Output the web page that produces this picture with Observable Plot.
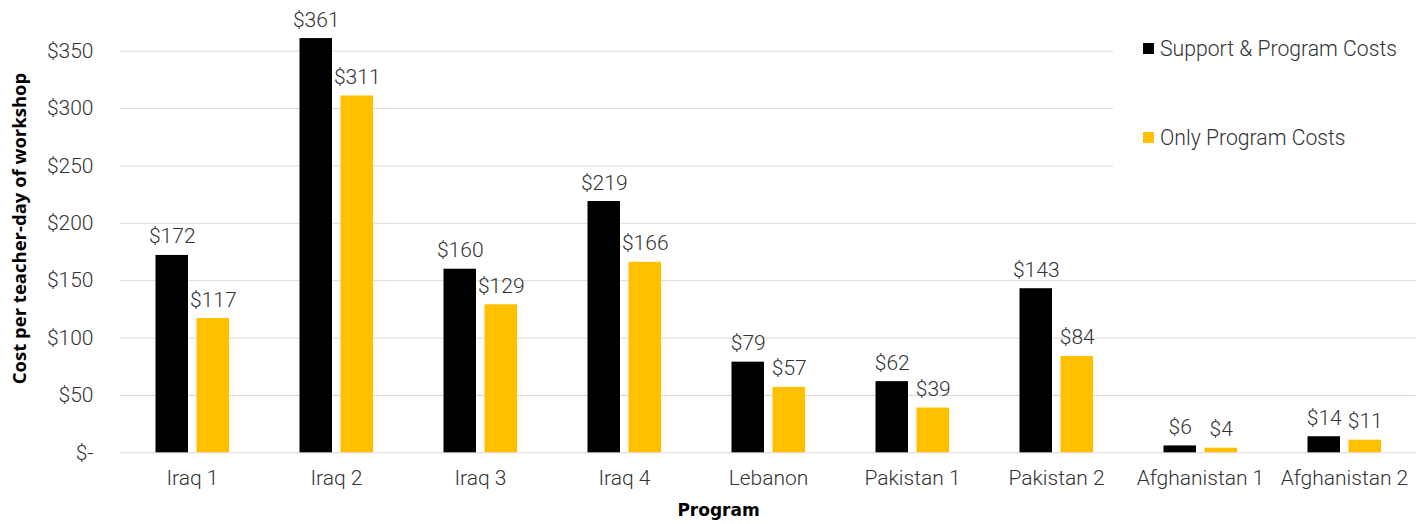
<!DOCTYPE html>
<html>
<head>
<meta charset="utf-8">
<script src="https://cdn.jsdelivr.net/npm/d3@7"></script>
<script src="https://cdn.jsdelivr.net/npm/@observablehq/plot@0.6"></script>
<style>
  body { margin: 0; background: #fff; }
  #wrap { position: relative; width: 1424px; height: 524px; overflow: hidden; }
  #legend { position: absolute; left: 1113px; top: 20px; width: 311px; height: 180px; background: #fff;
            font-family: Roboto, "Liberation Sans", sans-serif; font-weight: 300; font-size: 21.2px; color: #333; }
  .item { position: absolute; left: 30px; display: flex; align-items: center; white-space: nowrap; }
  .sw { width: 11px; height: 11px; margin-right: 6px; }
</style>
</head>
<body>
<div id="wrap"><div id="legend"></div></div>
<script>
const programs = ["Iraq 1", "Iraq 2", "Iraq 3", "Iraq 4", "Lebanon", "Pakistan 1", "Pakistan 2", "Afghanistan 1", "Afghanistan 2"];
const supportAndProgram = [172, 361, 160, 219, 79, 62, 143, 6, 14];
const programOnly = [117, 311, 129, 166, 57, 39, 84, 4, 11];
const seriesNames = ["Support & Program Costs", "Only Program Costs"];
const seriesColors = ["#000000", "#FFC000"];
const yTicks = [0, 50, 100, 150, 200, 250, 300, 350];
const yTitle = "Cost per teacher-day of workshop";
const xTitle = "Program";

const rowsA = programs.map((p, i) => ({program: p, value: supportAndProgram[i]}));
const rowsB = programs.map((p, i) => ({program: p, value: programOnly[i]}));
const fmt = v => v === 0 ? "$-" : "$" + v;

const chart = Plot.plot({
  width: 1424, height: 524,
  marginLeft: 119.5, marginRight: 8.5, marginTop: 50.7, marginBottom: 71.7,
  style: {fontFamily: "Roboto, 'Liberation Sans', sans-serif", fontSize: "21px", fontWeight: 300, color: "#333", background: "#fff"},
  x: {type: "band", domain: programs, padding: 0},
  y: {domain: [0, 350]},
  marks: [
    Plot.ruleY(yTicks, {stroke: "#d9d9d9", strokeWidth: 1}),
    Plot.barY(rowsA, {x: "program", y: "value", fill: seriesColors[0], insetLeft: 35.5, insetRight: 76}),
    Plot.barY(rowsB, {x: "program", y: "value", fill: seriesColors[1], insetLeft: 76.5, insetRight: 35}),
    Plot.text(rowsA, {x: "program", y: "value", text: d => fmt(d.value), dx: -20.25, dy: -12, lineAnchor: "bottom", fill: "#333"}),
    Plot.text(rowsB, {x: "program", y: "value", text: d => fmt(d.value), dx: 20.75, dy: -12, lineAnchor: "bottom", fill: "#333"}),
    Plot.axisY({ticks: yTicks, tickFormat: fmt, tickSize: 0, tickPadding: 26.5, label: null}),
    Plot.axisX({tickSize: 0, tickPadding: 17, label: null}),
    Plot.text([yTitle], {frameAnchor: "left", text: d => d, rotate: -90, textAnchor: "middle", lineAnchor: "middle",
      dx: -99.5, dy: -23.5, fontWeight: "bold", fontSize: 18.5, fontFamily: "'Open Sans', sans-serif", fill: "#000"}),
    Plot.text([xTitle], {frameAnchor: "bottom", text: d => d, textAnchor: "middle", lineAnchor: "bottom",
      dx: -49.5, dy: 63.4, fontWeight: "bold", fontSize: 17, fontFamily: "'DejaVu Sans', sans-serif", fill: "#000"})
  ]
});
const wrap = document.getElementById("wrap");
wrap.insertBefore(chart, wrap.firstChild);

const legend = document.getElementById("legend");
const tops = [16, 105];
seriesNames.forEach((name, i) => {
  const item = document.createElement("div");
  item.className = "item";
  item.style.top = tops[i] + "px";
  item.innerHTML = `<span class="sw" style="background:${seriesColors[i]}"></span><span>${name}</span>`;
  legend.appendChild(item);
});
</script>
</body>
</html>
